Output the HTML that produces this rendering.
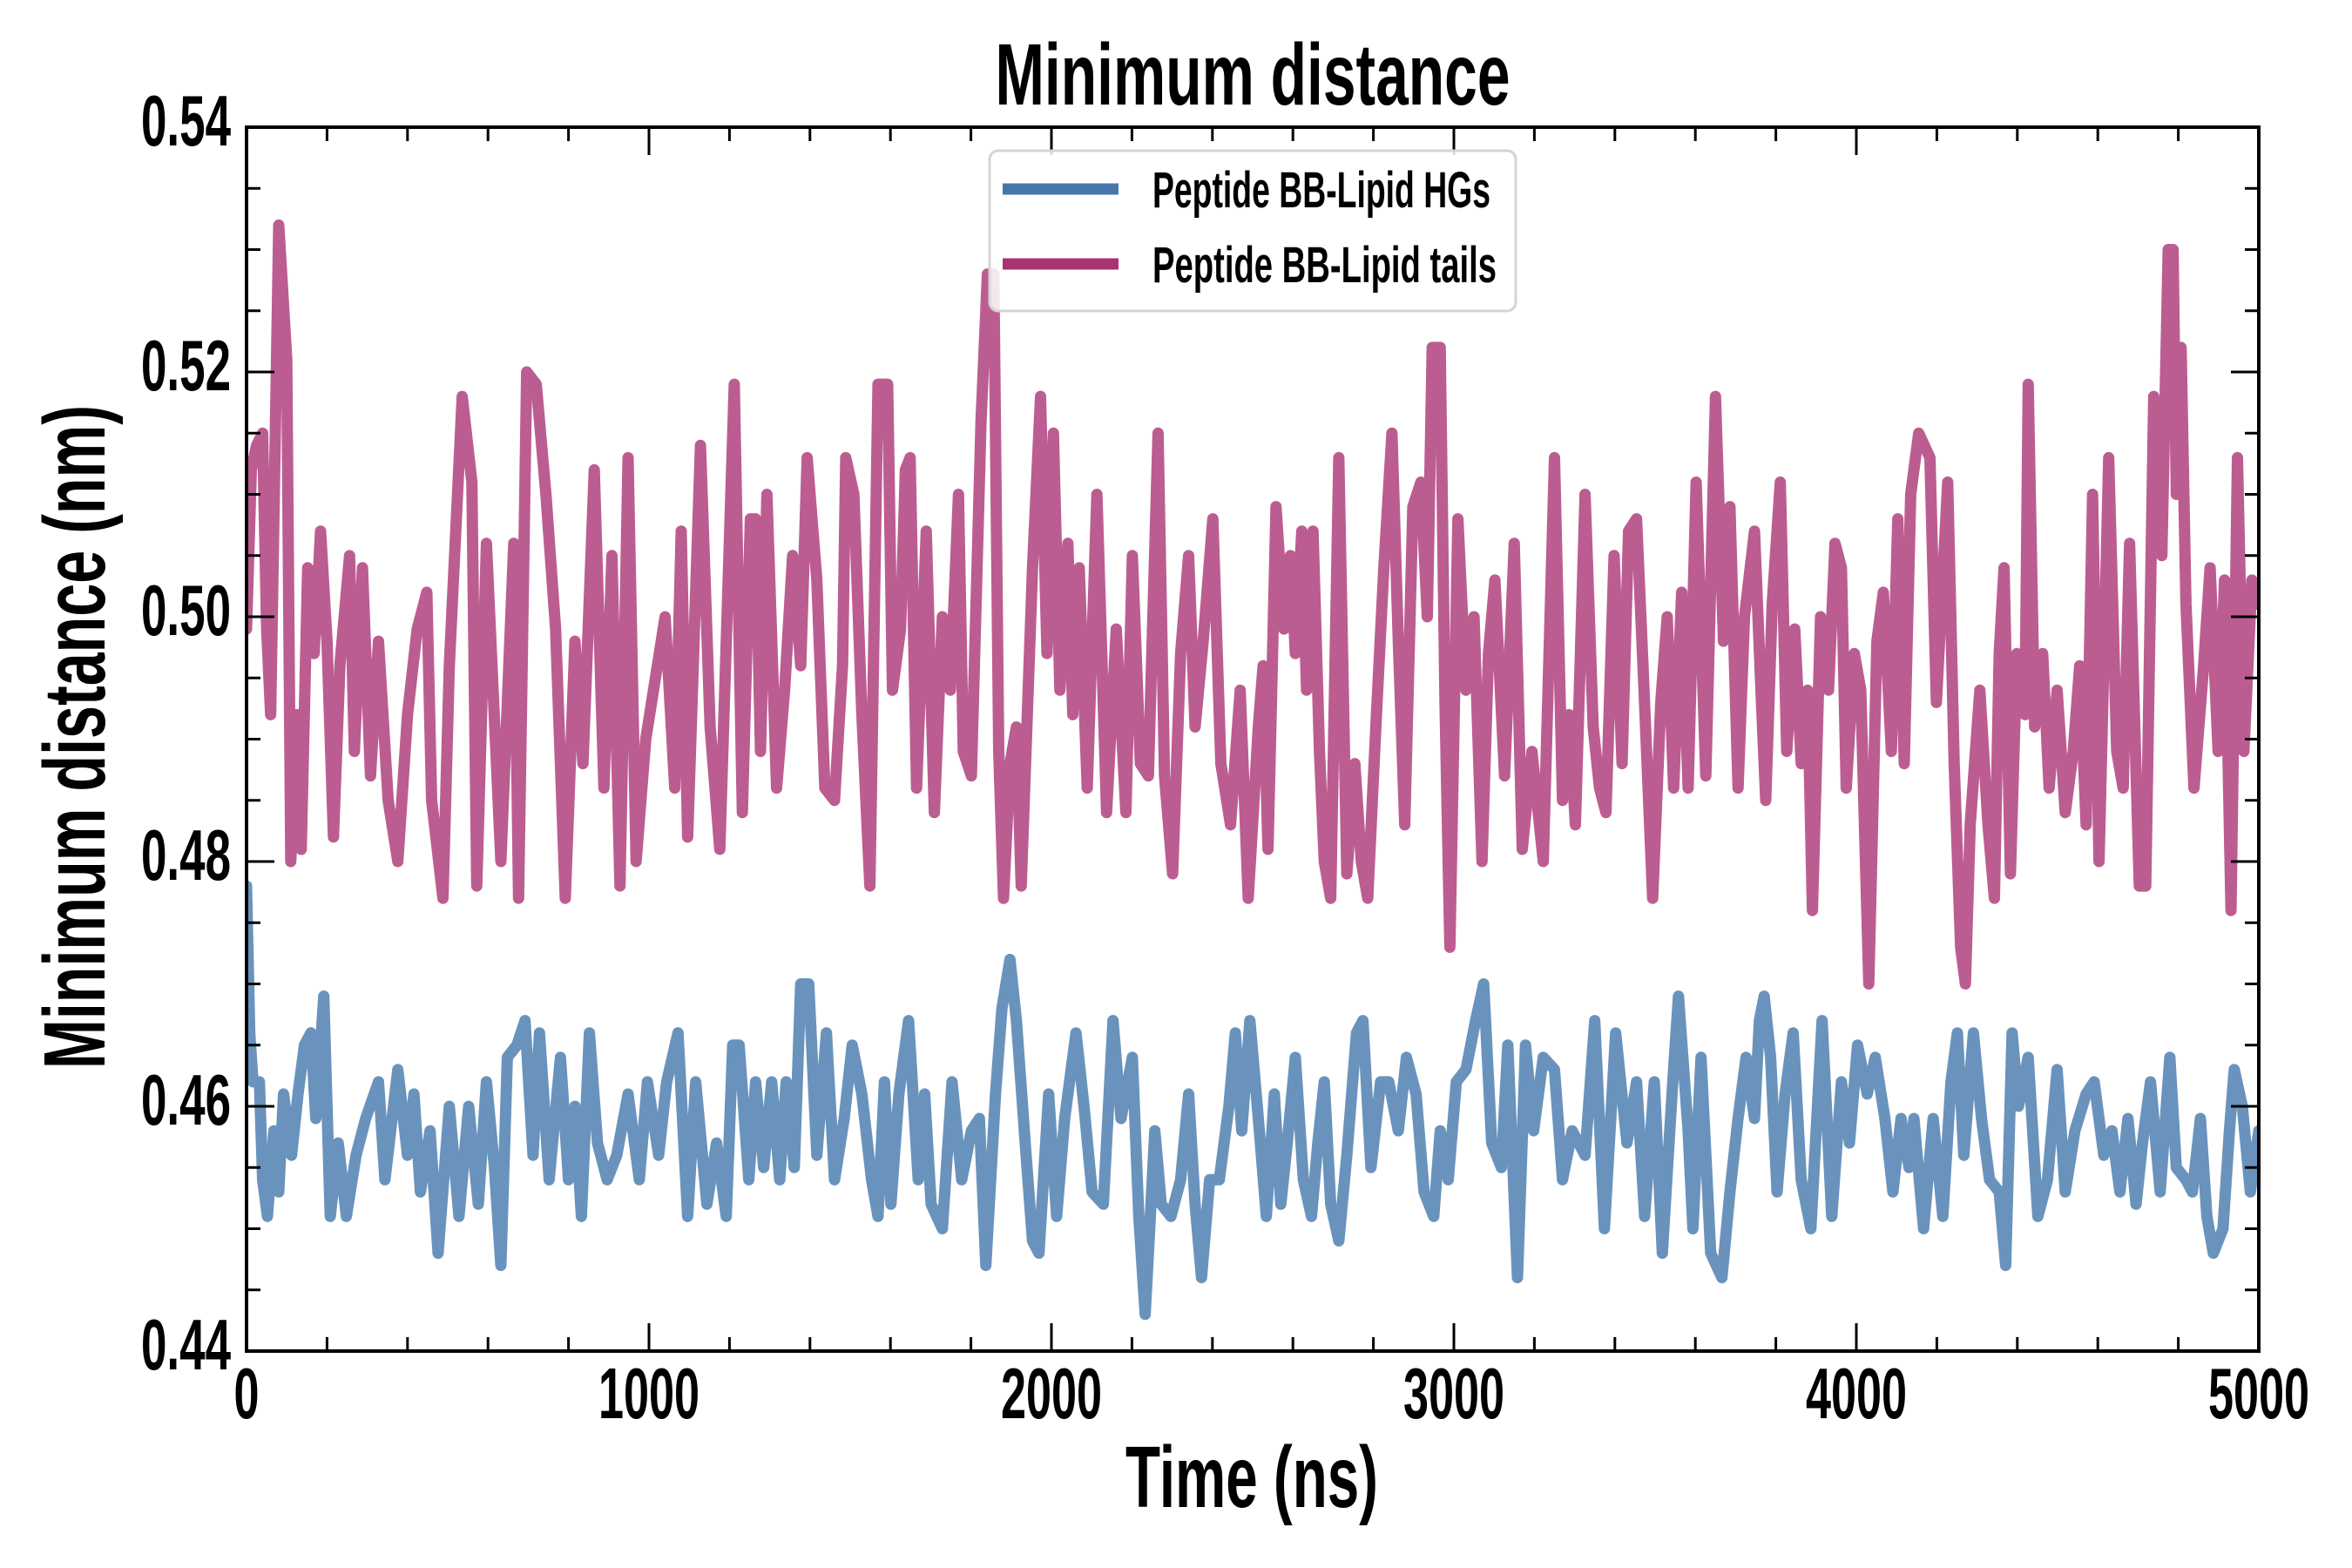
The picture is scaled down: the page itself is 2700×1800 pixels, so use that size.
<!DOCTYPE html>
<html><head><meta charset="utf-8"><style>
html,body{margin:0;padding:0;background:#fff;}
svg{display:block;}
text{font-family:"Liberation Sans",sans-serif;font-weight:bold;fill:#000;}
</style></head><body>
<svg id="chart" width="2700" height="1800" viewBox="0 0 2700 1800" xmlns="http://www.w3.org/2000/svg">
<rect x="0" y="0" width="2700" height="1800" fill="#fff"/>
<g id="series"></g>
<g id="ticks"></g>
<rect x="283" y="146" width="2310" height="1405" fill="none" stroke="#000" stroke-width="4"/>
<g id="labels"></g>
<text x="1438" y="120" font-size="100" text-anchor="middle" textLength="591" lengthAdjust="spacingAndGlyphs">Minimum distance</text>
<text x="1437" y="1730" font-size="100" text-anchor="middle" textLength="290" lengthAdjust="spacingAndGlyphs">Time (ns)</text>
<text transform="translate(120,846) rotate(-90)" x="0" y="0" font-size="100" text-anchor="middle" textLength="762" lengthAdjust="spacingAndGlyphs">Minimum distance (nm)</text>
<g>
<rect x="1136" y="173" width="604" height="184" rx="10" fill="#fff" fill-opacity="0.85" stroke="#d4d4d4" stroke-width="3"/>
<line x1="1151" y1="217" x2="1284" y2="217" stroke="#4677aa" stroke-width="13"/>
<text x="1323" y="238" font-size="58" textLength="388" lengthAdjust="spacingAndGlyphs">Peptide BB-Lipid HGs</text>
<line x1="1151" y1="303" x2="1284" y2="303" stroke="#a83372" stroke-width="13"/>
<text x="1323" y="324" font-size="58" textLength="395" lengthAdjust="spacingAndGlyphs">Peptide BB-Lipid tails</text>
</g>
</svg>
<script>
var tailsT=[0,12,25,40,50,60,80,100,110,125,136,152,168,184,200,216,232,256,268,288,308,328,352,376,400,424,448,460,488,504,536,560,572,596,632,664,676,696,720,744,768,792,816,836,864,888,908,928,948,968,992,1016,1040,1064,1080,1096,1128,1152,1176,1212,1232,1252,1265,1277,1293,1317,1337,1357,1377,1393,1417,1437,1461,1481,1489,1509,1529,1549,1569,1593,1605,1625,1637,1649,1665,1689,1709,1729,1749,1769,1781,1801,1825,1841,1857,1869,1881,1897,1913,1925,1953,1973,1989,2005,2021,2041,2053,2069,2089,2113,2137,2161,2185,2201,2221,2241,2265,2281,2301,2321,2341,2357,2377,2401,2421,2445,2469,2489,2514,2526,2538,2558,2578,2594,2606,2622,2634,2650,2666,2678,2694,2714,2734,2754,2770,2786,2806,2826,2846,2862,2878,2898,2918,2934,2946,2966,2978,2990,3010,3030,3050,3070,3086,3102,3126,3150,3170,3194,3222,3250,3270,3286,3302,3326,3346,3362,3378,3398,3418,3434,3454,3470,3494,3514,3530,3546,3566,3582,3602,3626,3650,3670,3686,3706,3722,3747,3763,3775,3791,3811,3827,3847,3863,3879,3891,3911,3931,3947,3963,3975,3995,4011,4031,4051,4067,4087,4103,4119,4135,4155,4183,4199,4227,4243,4259,4271,4283,4307,4327,4343,4355,4367,4383,4399,4419,4427,4443,4463,4479,4499,4519,4539,4555,4571,4587,4603,4627,4647,4663,4679,4703,4719,4739,4759,4775,4787,4795,4807,4819,4839,4863,4879,4899,4915,4931,4947,4963,4983,5000];
var tailsV=[.499,.512,.514,.515,.499,.492,.532,.521,.480,.492,.481,.504,.497,.507,.498,.482,.496,.505,.489,.504,.487,.498,.485,.480,.492,.499,.502,.485,.477,.496,.518,.511,.478,.506,.480,.506,.477,.520,.519,.510,.499,.477,.498,.488,.512,.486,.505,.478,.513,.480,.490,.495,.500,.486,.507,.482,.514,.491,.481,.519,.484,.508,.508,.489,.510,.486,.494,.505,.496,.513,.503,.486,.485,.496,.513,.510,.492,.478,.519,.519,.494,.499,.512,.513,.486,.507,.484,.500,.494,.510,.489,.487,.516,.528,.528,.489,.477,.488,.491,.478,.504,.518,.497,.515,.494,.506,.492,.504,.486,.510,.484,.499,.484,.505,.488,.487,.515,.487,.479,.497,.505,.491,.498,.508,.488,.483,.494,.477,.491,.496,.481,.509,.499,.505,.497,.507,.494,.507,.489,.480,.477,.513,.479,.488,.480,.477,.491,.504,.515,.498,.483,.509,.511,.500,.522,.522,.493,.473,.508,.494,.500,.480,.497,.503,.487,.506,.481,.489,.480,.513,.485,.492,.483,.510,.491,.486,.484,.505,.488,.507,.508,.496,.477,.493,.500,.486,.502,.486,.511,.487,.518,.498,.509,.486,.500,.507,.494,.485,.501,.511,.489,.499,.488,.494,.476,.500,.494,.506,.504,.486,.497,.494,.470,.498,.502,.489,.508,.488,.510,.515,.513,.493,.511,.488,.473,.470,.483,.494,.483,.477,.497,.504,.479,.497,.492,.519,.491,.497,.486,.494,.484,.489,.496,.483,.510,.480,.513,.489,.486,.506,.478,.478,.518,.505,.530,.530,.510,.522,.501,.486,.496,.504,.489,.503,.476,.513,.489,.503,.501];
var hgsT=[0,8,16,32,40,52,68,80,92,112,128,144,160,172,192,208,228,248,272,296,328,344,376,400,416,432,456,476,504,528,552,576,596,616,632,648,672,692,712,728,752,780,800,816,832,852,872,896,920,948,976,996,1024,1044,1072,1096,1116,1144,1168,1192,1208,1224,1248,1265,1285,1305,1325,1341,1361,1377,1397,1417,1441,1461,1485,1505,1529,1553,1569,1585,1601,1621,1645,1669,1685,1701,1729,1753,1777,1801,1821,1837,1861,1877,1897,1913,1937,1953,1969,1993,2013,2033,2061,2081,2101,2129,2153,2173,2201,2217,2233,2257,2273,2297,2321,2341,2357,2373,2393,2417,2441,2457,2473,2493,2514,2534,2554,2570,2586,2606,2626,2646,2662,2678,2694,2714,2734,2758,2774,2794,2818,2838,2862,2882,2906,2926,2950,2966,2986,3006,3030,3054,3074,3094,3118,3134,3158,3178,3198,3222,3250,3270,3294,3326,3350,3374,3402,3430,3454,3474,3498,3518,3542,3558,3582,3594,3614,3638,3666,3686,3706,3726,3747,3759,3771,3787,3803,3823,3843,3863,3887,3915,3939,3963,3983,4003,4027,4047,4071,4091,4111,4131,4143,4167,4191,4215,4235,4251,4267,4291,4311,4331,4355,4371,4387,4403,4427,4451,4475,4499,4519,4543,4571,4591,4615,4635,4655,4675,4695,4711,4731,4755,4779,4795,4819,4835,4855,4871,4887,4911,4927,4939,4959,4979,5000];
var hgsV=[.478,.466,.462,.462,.454,.451,.458,.453,.461,.456,.461,.465,.466,.459,.469,.451,.457,.451,.456,.459,.462,.454,.463,.456,.461,.453,.458,.448,.460,.451,.460,.452,.462,.455,.447,.464,.465,.467,.456,.466,.454,.464,.454,.460,.451,.466,.457,.454,.456,.461,.454,.462,.456,.462,.466,.451,.462,.452,.457,.451,.465,.465,.454,.462,.455,.462,.454,.462,.455,.470,.470,.456,.466,.454,.459,.465,.461,.454,.451,.462,.452,.461,.467,.454,.461,.452,.450,.462,.454,.458,.459,.447,.461,.468,.472,.467,.456,.449,.448,.461,.451,.459,.466,.460,.453,.452,.467,.459,.464,.451,.443,.458,.452,.451,.454,.461,.452,.446,.454,.454,.460,.466,.458,.467,.459,.451,.461,.452,.457,.464,.454,.451,.457,.462,.452,.449,.456,.466,.467,.455,.462,.462,.458,.464,.461,.453,.451,.458,.454,.462,.463,.467,.470,.457,.455,.465,.446,.465,.458,.464,.463,.454,.458,.456,.467,.450,.466,.457,.462,.451,.462,.448,.461,.469,.458,.450,.464,.448,.446,.453,.459,.464,.459,.467,.469,.464,.453,.461,.466,.454,.450,.467,.451,.462,.457,.465,.461,.464,.459,.453,.459,.455,.459,.450,.459,.451,.462,.466,.456,.466,.459,.454,.453,.447,.466,.460,.464,.451,.454,.463,.453,.458,.461,.462,.456,.458,.453,.459,.452,.457,.462,.453,.464,.455,.454,.453,.459,.451,.448,.450,.458,.463,.460,.453,.458];
var xTickLabels=["0","1000","2000","3000","4000","5000"];
var yTickLabels=["0.44","0.46","0.48","0.50","0.52","0.54"];

var X0=283,X1=2593,Y0=1551,Y1=146,XMIN=0,XMAX=5000,YMIN=0.44,YMAX=0.54;
function sx(t){return X0+(t-XMIN)/(XMAX-XMIN)*(X1-X0);}
function sy(v){return Y0-(v-YMIN)/(YMAX-YMIN)*(Y0-Y1);}
var NS="http://www.w3.org/2000/svg";
function mk(tag,attrs,parent){var e=document.createElementNS(NS,tag);for(var k in attrs)e.setAttribute(k,attrs[k]);parent.appendChild(e);return e;}
var sg=document.getElementById('series');
function drawLine(T,V,color,name){
  var d='';for(var i=0;i<T.length;i++){d+=(i?'L':'M')+sx(T[i]).toFixed(1)+','+sy(V[i]).toFixed(1);}
  var p=mk('path',{d:d,fill:'none',stroke:color,'stroke-width':13,'stroke-linejoin':'round','stroke-linecap':'round'},sg);
  
  
}
var clip=mk('clipPath',{id:'pc'},document.getElementById('chart'));
mk('rect',{x:X0,y:Y1,width:X1-X0,height:Y0-Y1},clip);
sg.setAttribute('clip-path','url(#pc)');
drawLine(tailsT,tailsV,'#bc5d91','series-lipid-tails');
drawLine(hgsT,hgsV,'#6993bc','series-lipid-hgs');

var tg=document.getElementById('ticks');
for(var t=0;t<=5000;t+=200){
  var major=(t%1000===0),L=major?32:16,x=sx(t);
  var a=mk('line',{x1:x,y1:Y0,x2:x,y2:Y0-L,stroke:'#000','stroke-width':3},tg);
  
  
  var b=mk('line',{x1:x,y1:Y1,x2:x,y2:Y1+L,stroke:'#000','stroke-width':3},tg);
  
  
}
for(var k=0;k<=20;k++){
  var v=YMIN+k*0.005,major=(k%4===0),L=major?32:16,y=sy(v);
  var a=mk('line',{x1:X0,y1:y,x2:X0+L,y2:y,stroke:'#000','stroke-width':3},tg);
  
  
  var b=mk('line',{x1:X1,y1:y,x2:X1-L,y2:y,stroke:'#000','stroke-width':3},tg);
  
  
}
var lg=document.getElementById('labels');
for(var i=0;i<xTickLabels.length;i++){
  var s=xTickLabels[i],w=s.length*29;
  var e=mk('text',{x:sx(Number(s)),y:1628,'font-size':83,'text-anchor':'middle',textLength:w,lengthAdjust:'spacingAndGlyphs'},lg);
  e.textContent=s;
  
  
}
for(var i=0;i<yTickLabels.length;i++){
  var s=yTickLabels[i];
  var e=mk('text',{x:265,y:sy(Number(s))+21,'font-size':83,'text-anchor':'end',textLength:103,lengthAdjust:'spacingAndGlyphs'},lg);
  e.textContent=s;
  
  
}
</script>
</body></html>
